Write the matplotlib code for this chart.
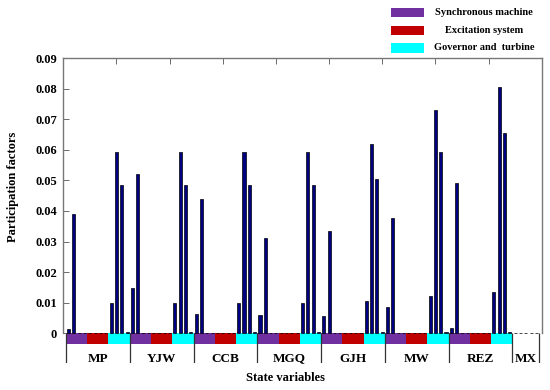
import numpy as np
import matplotlib
matplotlib.use("Agg")
import matplotlib.pyplot as plt
from matplotlib.patches import Rectangle

# ---------------- data ----------------
generators = ['MP', 'YJW', 'CCB', 'MGQ', 'GJH', 'MW', 'REZ', 'MX']
subsystems = ['Synchronous machine', 'Excitation system', 'Governor and  turbine']
subsystem_colors = ['#7030A0', '#C00000', '#00FFFF']
states_per_subsystem = [4, 4, 4]

pf_MP  = [0.0013, 0.0389, 0, 0, 0, 0, 0, 0, 0.0100, 0.0594, 0.0484, 0.0004]
pf_YJW = [0.0147, 0.0522, 0, 0, 0, 0, 0, 0, 0.0100, 0.0594, 0.0485, 0.0003]
pf_CCB = [0.0063, 0.0438, 0, 0, 0, 0, 0, 0, 0.0100, 0.0594, 0.0485, 0.0003]
pf_MGQ = [0.0060, 0.0313, 0, 0, 0, 0, 0, 0, 0.0100, 0.0594, 0.0485, 0.0003]
pf_GJH = [0.0058, 0.0334, 0, 0, 0, 0, 0, 0, 0.0105, 0.0618, 0.0506, 0.0003]
pf_MW  = [0.0085, 0.0376, 0, 0, 0, 0, 0, 0, 0.0123, 0.0730, 0.0594, 0.0003]
pf_REZ = [0.0018, 0.0490, 0, 0, 0, 0, 0, 0, 0.0136, 0.0804, 0.0655, 0.0004]
pf_MX  = [0, 0, 0, 0, 0]

yticks = [0, 0.01, 0.02, 0.03, 0.04, 0.05, 0.06, 0.07, 0.08, 0.09]
ytick_labels = ['0', '0.01', '0.02', '0.03', '0.04', '0.05', '0.06', '0.07', '0.08', '0.09']

pf_groups = [pf_MP, pf_YJW, pf_CCB, pf_MGQ, pf_GJH, pf_MW, pf_REZ, pf_MX]

# ---------------- style ----------------
plt.rcParams['font.family'] = ['Liberation Serif', 'DejaVu Serif']
plt.rcParams['font.weight'] = 'bold'

fig = plt.figure(figsize=(5.5, 3.9), dpi=100)
ax = fig.add_axes([63.3/550, 1-363/390, (541.7-63.3)/550, (363-58)/390])

values = np.concatenate([np.array(g, dtype=float) for g in pf_groups])
x = np.arange(1, len(values) + 1)

band_h = 0.0035
ymin = -0.0097

# subsystem bands below zero
start = 0.5
for g in pf_groups:
    if len(g) == sum(states_per_subsystem):
        s = start
        for n, c in zip(states_per_subsystem, subsystem_colors):
            ax.bar(s, -band_h, width=n, align='edge', color=c, edgecolor='none', zorder=1)
            s += n
    start += len(g)

ax.bar(x, values, width=0.58, color='#000080', edgecolor='black', linewidth=0.5, zorder=3)

# group separators and labels
bounds = np.concatenate([[0.5], 0.5 + np.cumsum([len(g) for g in pf_groups])])
ax.vlines(bounds, ymin, 0, colors='#333333', linewidth=0.9, zorder=2)
for name, a, b in zip(generators, bounds[:-1], bounds[1:]):
    ax.text((a + b) / 2, -0.00825, name, ha='center', va='center',
            fontsize=9.5, fontweight='bold')

ax.set_xlim(0, 90)
ax.set_ylim(ymin, 0.09)

ax.set_yticks(yticks)
ax.set_yticklabels(ytick_labels)
ax.tick_params(axis='y', direction='in', length=4, width=0.6, labelsize=9, pad=4.5,
               colors='#555555', labelcolor='black')
ax.xaxis.set_ticks_position('top')
ax.set_xticks(np.arange(10, 90, 10))
ax.tick_params(axis='x', direction='in', length=4, width=0.6, colors='#555555',
               labeltop=False, labelbottom=False)
for lab in ax.get_yticklabels():
    lab.set_fontweight('bold')

ax.spines['bottom'].set_visible(False)
for sp in ['left', 'right', 'top']:
    ax.spines[sp].set_color('#777777')
    ax.spines[sp].set_linewidth(1.0)
ax.spines['left'].set_bounds(0, 0.09)
ax.spines['right'].set_bounds(0, 0.09)

fig.text(285.5/550, 1-378/390, 'State variables', ha='center', va='center',
         fontsize=9, fontweight='bold')
fig.text(13.5/550, 1-187/390, 'Participation factors', ha='center', va='center',
         rotation=90, fontsize=9, fontweight='bold')

# legend (manual, centered text)
leg_y = [12.3, 30.3, 48.0]
for lab, c, yc in zip(subsystems, subsystem_colors, leg_y):
    fig.patches.append(Rectangle((390.7/550, 1-(yc+4.7)/390), 33.5/550, 9.4/390,
                                 transform=fig.transFigure, facecolor=c,
                                 edgecolor='none'))
    fig.text(484/550, 1-yc/390, lab, ha='center', va='center', fontsize=7.5,
             fontweight='bold')

fig.savefig('out.png', dpi=100)
